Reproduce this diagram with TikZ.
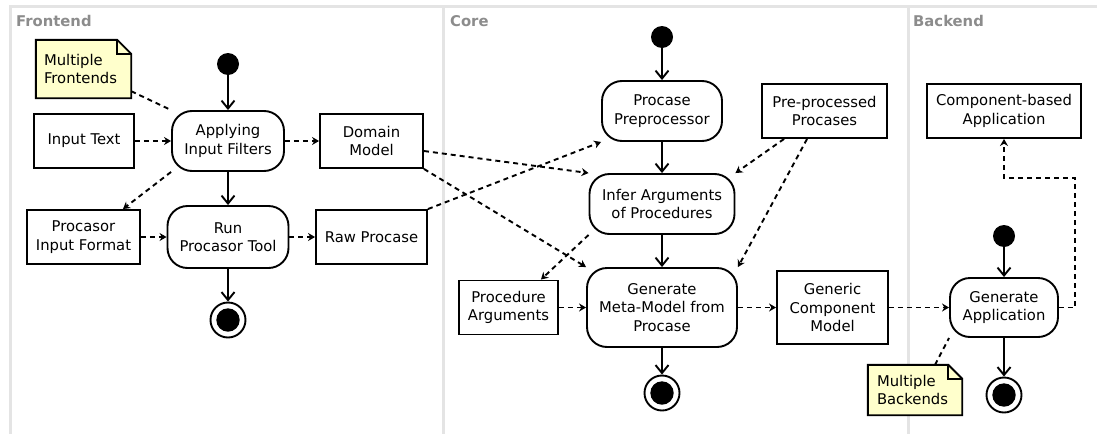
\documentclass[tikz,border=0pt]{standalone}
\usepackage{fontspec}
\setmainfont{DejaVu Sans}
\usetikzlibrary{arrows.meta}
\definecolor{lanegray}{HTML}{E4E4E4}
\definecolor{lanetext}{HTML}{8C8C8C}
\definecolor{noteyellow}{HTML}{FFFFCC}
\pgfdeclarelayer{lanelayer}
\pgfdeclarelayer{notelayer}
\pgfsetlayers{lanelayer,notelayer,main}

\begin{document}
\begin{tikzpicture}[x=1pt,y=-1pt,
  every node/.style={font=\fontsize{14.8}{18.5}\selectfont, align=center, inner sep=0pt},
  action/.style={draw, line width=1.9pt, rounded corners=20pt, fill=white},
  object/.style={draw, line width=1.9pt, fill=white},
  startdot/.style={circle, fill=black, minimum size=22pt},
  enddot/.style={circle, draw, line width=1.9pt, fill=white, minimum size=35pt,
    path picture={\fill[black] (path picture bounding box.center) circle (11.7pt);}},
  notebox/.style={align=left},
  notefill/.style={draw, line width=1.9pt, fill=noteyellow, line join=miter},
  lanelabel/.style={anchor=west, font=\fontsize{14.8}{16}\selectfont\bfseries, text=lanetext},
  flow/.style={line width=1.9pt, -{Straight Barb[length=8pt,width=13pt]}},
  dflow/.style={line width=1.9pt, dash pattern=on 5pt off 4pt, -{Stealth[length=7pt,width=8pt]}},
  nlink/.style={line width=1.9pt, dash pattern=on 5pt off 4pt},
]
\useasboundingbox (0,0) rectangle (1097,434);

% swimlanes
\begin{pgfonlayer}{lanelayer}
  \draw[lanegray, line width=3pt] (10,434) -- (10,6) -- (1097,6);
  \draw[lanegray, line width=3pt] (443,6) -- (443,434);
  \draw[lanegray, line width=3pt] (908,6) -- (908,434);
\end{pgfonlayer}
\node[lanelabel] (lfront) at (16,21) {Frontend};
\node[lanelabel] (lcore) at (450,21) {Core};
\node[lanelabel] (lback) at (913,21) {Backend};

% Frontend
\node[startdot] (fs) at (228,64) {};
\node[action, minimum width=112pt, minimum height=60pt] (apply) at (228,141) {Applying\\Input Filters};
\node[object, minimum width=100pt, minimum height=54pt] (intext) at (84,141) {Input Text};
\node[object, minimum width=103pt, minimum height=54pt] (domain) at (371.5,141) {Domain\\Model};
\node[object, minimum width=113pt, minimum height=54pt] (pif) at (83.5,237) {Procasor\\Input Format};
\node[action, minimum width=121pt, minimum height=62pt] (run) at (228,237) {Run\\Procasor Tool};
\node[object, minimum width=111pt, minimum height=54pt] (raw) at (371.5,237) {Raw Procase};
\node[enddot] (fe) at (228,320) {};
\node[notebox, minimum width=95pt, minimum height=58pt, text width=79pt] (mf) at (83.5,69) {Multiple\\Frontends};

% Core
\node[startdot] (cs) at (662,37) {};
\node[action, minimum width=120pt, minimum height=60pt] (prep) at (662,111) {Procase\\Preprocessor};
\node[object, minimum width=125pt, minimum height=54pt] (ppp) at (824.5,111) {Pre-processed\\Procases};
\node[action, minimum width=145pt, minimum height=60pt] (infer) at (662,204) {Infer Arguments\\of Procedures};
\node[action, minimum width=150pt, minimum height=79pt] (genmm) at (662,307.5) {Generate\\Meta-Model from\\Procase};
\node[object, minimum width=99pt, minimum height=54pt] (pargs) at (508.5,307.5) {Procedure\\Arguments};
\node[object, minimum width=111pt, minimum height=73pt] (gcm) at (832.5,307.5) {Generic\\Component\\Model};
\node[enddot] (ce) at (662,393) {};

% Backend
\node[object, minimum width=154pt, minimum height=54pt] (cba) at (1004,111) {Component-based\\Application};
\node[startdot] (bs) at (1004,236) {};
\node[action, minimum width=108pt, minimum height=59pt] (genapp) at (1004,307.5) {Generate\\Application};
\node[enddot] (be) at (1004,395) {};
\node[notebox, minimum width=94pt, minimum height=50pt, text width=76pt] (mb) at (915,390) {Multiple\\Backends};

% note outlines with folded corner
\begin{pgfonlayer}{notelayer}
  \foreach \n in {mf,mb} {
    \draw[notefill] (\n.south west) -- (\n.north west) -- ([xshift=-14pt]\n.north east)
      -- ([yshift=-14pt]\n.north east) -- (\n.south east) -- cycle;
    \draw[line width=1.9pt] ([xshift=-14pt]\n.north east) -- ([xshift=-14pt,yshift=-14pt]\n.north east)
      -- ([yshift=-14pt]\n.north east);
  }
\end{pgfonlayer}

% control flow
\draw[flow] (fs) -- (apply);
\draw[flow] (apply) -- (run);
\draw[flow] (run) -- (fe);
\draw[flow] (cs) -- (prep);
\draw[flow] (prep) -- (infer);
\draw[flow] (infer) -- (genmm);
\draw[flow] (genmm) -- (ce);
\draw[flow] (bs) -- (genapp);
\draw[flow] (genapp) -- (be);

% object flow
\draw[dflow] (intext) -- (apply);
\draw[dflow] (apply) -- (domain);
\draw[dflow] (apply.south west) -- ([xshift=-18pt]pif.north east);
\draw[dflow] (pif) -- (run);
\draw[dflow] (run) -- (raw);
\draw[dflow] ([yshift=-10pt]domain.east) -- (infer.north west);
\draw[dflow] (domain.south east) -- (genmm.north west);
\draw[dflow] (raw.north east) -- (prep.south west);
\draw[dflow] ([xshift=23pt]ppp.south west) -- (infer.north east);
\draw[dflow] ([xshift=46pt]ppp.south west) -- (genmm.north east);
\draw[dflow] (infer.south west) -- ([xshift=-18pt]pargs.north east);
\draw[dflow] (pargs) -- (genmm);
\draw[dflow] (genmm) -- (gcm);
\draw[dflow] (gcm) -- (genapp);
\coordinate (bend) at (1075,178);
\draw[dflow] (genapp.east) -| (bend) -| (cba.south);

% note attachments
\draw[nlink] ([yshift=7pt]mf.south east) -- (apply.north west);
\draw[nlink] ([xshift=20pt]mb.north) -- (genapp.south west);
\end{tikzpicture}
\end{document}
